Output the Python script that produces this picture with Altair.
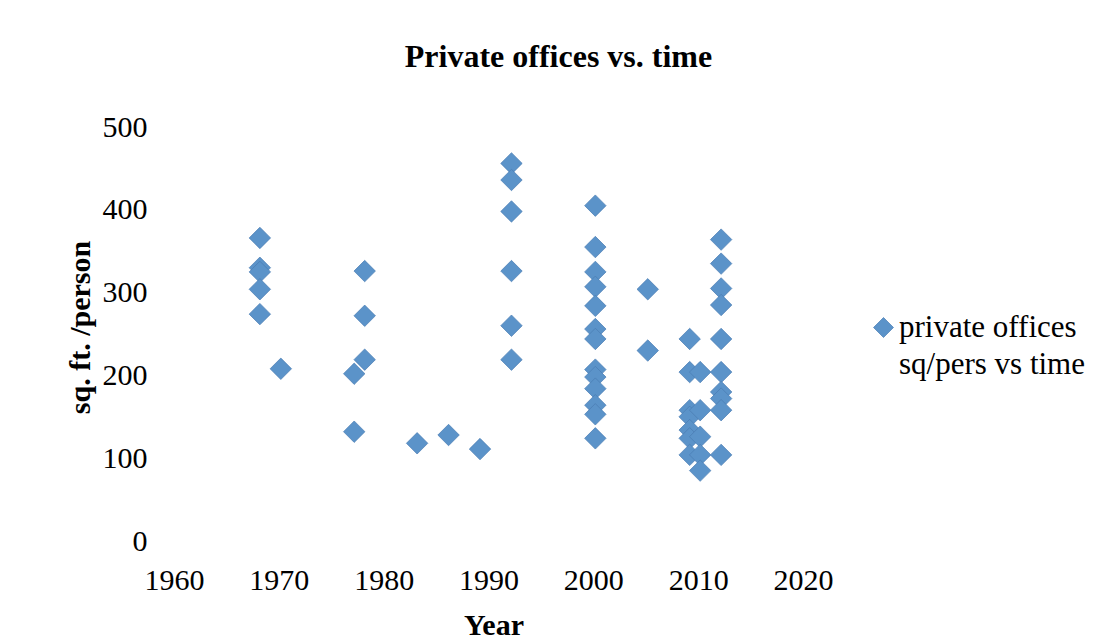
import altair as alt
import pandas as pd

# Data
years = [1968, 1968, 1968, 1968, 1968,
         1970,
         1977, 1977,
         1978, 1978, 1978,
         1983, 1986, 1989,
         1992, 1992, 1992, 1992, 1992, 1992,
         2000, 2000, 2000, 2000, 2000, 2000, 2000, 2000, 2000, 2000, 2000, 2000, 2000,
         2005, 2005,
         2009, 2009, 2009, 2009, 2009, 2009, 2009,
         2010, 2010, 2010, 2010, 2010,
         2012, 2012, 2012, 2012, 2012, 2012, 2012, 2012, 2012, 2012]
sqft_per_person = [366, 330, 325, 304, 274,
                   208,
                   202, 132,
                   326, 272, 219,
                   118, 128, 111,
                   456, 436, 398, 326, 260, 219,
                   405, 355, 325, 307, 284, 256, 244, 207, 198, 184, 164, 153, 124,
                   304, 230,
                   244, 204, 158, 150, 134, 124, 104,
                   204, 158, 126, 104, 85,
                   364, 335, 305, 285, 244, 204, 180, 172, 158, 104]
series_name = "private offices sq/pers vs time"
legend_lines = ["private offices", "sq/pers vs time"]
x_ticks = [1960, 1970, 1980, 1990, 2000, 2010, 2020]
y_ticks = [0, 100, 200, 300, 400, 500]

df = pd.DataFrame({
    "Year": years,
    "sqft": sqft_per_person,
    "series": [series_name] * len(years),
})

FONT = "Liberation Serif"
FILL = "#5b93c9"
EDGE = "#4a7db3"

chart = alt.Chart(df).mark_point(
    shape="diamond", filled=True, size=460, opacity=1,
    stroke=EDGE, strokeWidth=0.7,
).encode(
    x=alt.X("Year:Q",
            scale=alt.Scale(domain=[1960, 2020], nice=False, zero=False),
            axis=alt.Axis(values=x_ticks, format="d", title="Year",
                          labelPadding=24, labelFlush=False, tickOffset=-2,
                          titleX=317.5, titleY=93,
                          titleBaseline="alphabetic", titleAlign="center")),
    y=alt.Y("sqft:Q",
            scale=alt.Scale(domain=[0, 500], nice=False),
            axis=alt.Axis(values=y_ticks, title="sq. ft. /person",
                          labelPadding=29, titleAngle=270, titleX=-87, titleY=200,
                          titleBaseline="alphabetic", titleAlign="center")),
    color=alt.Color("series:N", scale=alt.Scale(range=[FILL]),
                    legend=alt.Legend(title=None, orient="none", legendX=692, legendY=185,
                                      labelExpr="['" + legend_lines[0] + "','" + legend_lines[1] + "']",
                                      symbolType="diamond", symbolSize=400,
                                      symbolStrokeColor=EDGE, symbolStrokeWidth=0.7,
                                      labelFont=FONT, labelFontSize=31, labelColor="black",
                                      labelOffset=0, labelLimit=400, padding=0)),
).properties(
    width=629,
    height=414,
    autosize=alt.AutoSizeParams(type="none"),
    padding={"left": 168, "top": 119, "right": 280, "bottom": 97},
    title=alt.TitleParams("Private offices vs. time", font=FONT, fontSize=32,
                          fontWeight="bold", color="black", anchor="middle",
                          dx=68, offset=38),
).configure(
    style={"guide-label": {"lineHeight": 37}}
).configure_view(
    stroke=None
).configure_axis(
    grid=False, domain=False, ticks=False,
    labelFont=FONT, labelFontSize=30, labelColor="black",
    titleFont=FONT, titleFontSize=30, titleFontWeight="bold", titleColor="black",
)

chart.save("out.html", embed_options={"renderer": "svg", "actions": False})
